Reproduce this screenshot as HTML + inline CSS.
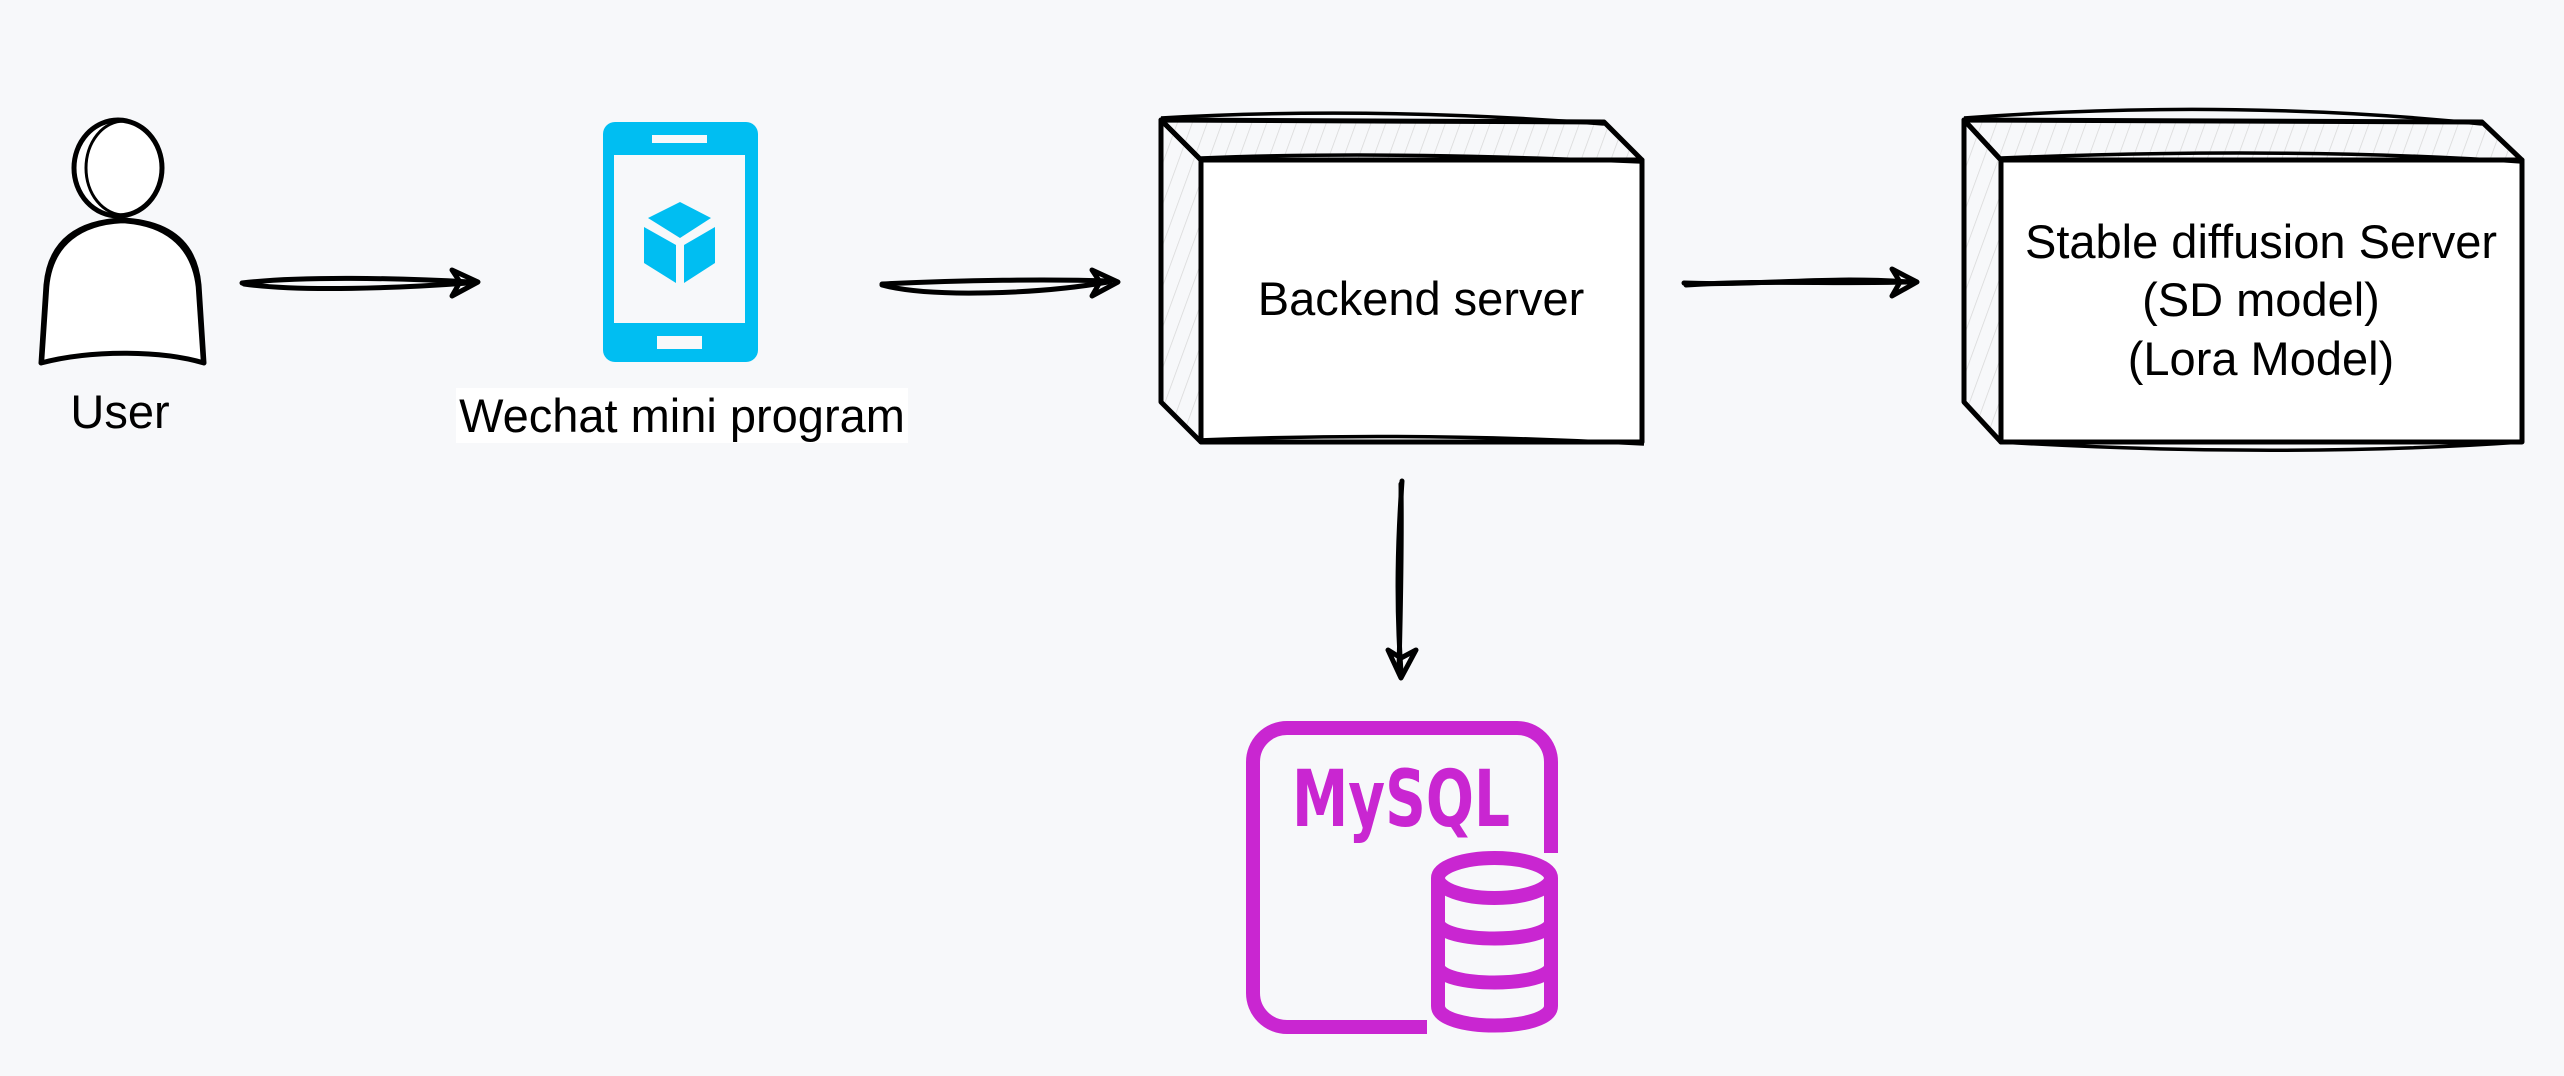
<!DOCTYPE html>
<html><head><meta charset="utf-8"><style>
html,body{margin:0;padding:0;background:#f7f8fa;}
svg{display:block;}
text{font-family:"Liberation Sans",Arial,sans-serif;}
</style></head><body>
<svg width="2564" height="1076" viewBox="0 0 2564 1076" xmlns="http://www.w3.org/2000/svg">
<defs>
<pattern id="h" width="14" height="14" patternUnits="userSpaceOnUse" patternTransform="rotate(20)">
<line x1="0" y1="0" x2="0" y2="14" stroke="#d8d8d8" stroke-width="1.5"/>
</pattern>
</defs>
<rect width="2564" height="1076" fill="#f7f8fa"/>

<!-- User -->
<g fill="#fff" stroke="#000" stroke-width="5" stroke-linejoin="round">
<path d="M41,363 L46,285 C50,240 80,222 122,220 C165,222 195,240 199,285 L204,363 C160,350 90,350 41,363 Z"/>
<path d="M43,361 L48,287 C52,243 82,224 122,222 C162,224 192,243 197,287 L202,361" fill="none" stroke-width="2.5"/>
<ellipse cx="118" cy="168" rx="44" ry="48"/>
<ellipse cx="124" cy="168" rx="38" ry="47" fill="none" stroke-width="3"/>
</g>
<text x="120" y="428" font-size="47" text-anchor="middle" fill="#000">User</text>

<!-- Arrow 1 -->
<g fill="none" stroke="#000" stroke-width="5" stroke-linecap="round" stroke-linejoin="round">
<path d="M242,283 C300,276 400,278 470,282"/>
<path d="M244,284 C300,292 400,288 468,283"/>
<path d="M452,270 L478,282 L452,296 L460,282 Z"/>
</g>

<!-- Phone -->
<rect x="603" y="122" width="155" height="240" rx="12" fill="#00bef2"/>
<rect x="614" y="155" width="131" height="168" fill="#f7f8fa"/>
<rect x="652" y="135" width="55" height="8" fill="#f7f8fa"/>
<rect x="657" y="336" width="45" height="13" fill="#f7f8fa"/>
<g fill="#00bef2">
<polygon points="680,202 711,218 680,238 648,218"/>
<polygon points="644,227 676,245 676,283 644,263"/>
<polygon points="715,227 684,245 684,283 715,263"/>
</g>
<rect x="456" y="388" width="452" height="55" fill="#fff"/>
<text x="682" y="432" font-size="47" text-anchor="middle" fill="#000">Wechat mini program</text>

<!-- Arrow 2 -->
<g fill="none" stroke="#000" stroke-width="5" stroke-linecap="round" stroke-linejoin="round">
<path d="M882,284 C960,280 1050,279 1110,281"/>
<path d="M882,285 C930,298 1040,294 1108,282"/>
<path d="M1092,270 L1118,282 L1092,296 L1100,282 Z"/>
</g>

<!-- Backend box -->
<g stroke="#000" stroke-width="5" stroke-linejoin="round">
<polygon points="1161,120 1604,122 1642,160 1201,160" fill="url(#h)"/>
<polygon points="1161,120 1201,160 1201,442 1161,402" fill="url(#h)"/>
<rect x="1201" y="160" width="441" height="282" fill="#fff"/>
<path d="M1161,118 C1300,110 1450,112 1604,124" fill="none" stroke-width="3.5"/>
<path d="M1201,158 C1350,152 1500,156 1642,162" fill="none" stroke-width="3.5"/>
<path d="M1199,440 C1350,434 1500,436 1644,444" fill="none" stroke-width="3.5"/>
</g>
<text x="1421" y="315" font-size="47" text-anchor="middle" fill="#000">Backend server</text>

<!-- Arrow 3 -->
<g fill="none" stroke="#000" stroke-width="5" stroke-linecap="round" stroke-linejoin="round">
<path d="M1684,283 C1760,286 1820,276 1910,282"/>
<path d="M1686,285 C1760,280 1830,284 1908,282"/>
<path d="M1892,269 L1917,282 L1892,296 L1900,282 Z"/>
</g>

<!-- SD box -->
<g stroke="#000" stroke-width="5" stroke-linejoin="round">
<polygon points="1964,120 2482,122 2522,160 2001,160" fill="url(#h)"/>
<polygon points="1964,120 2001,160 2001,442 1964,402" fill="url(#h)"/>
<rect x="2001" y="160" width="521" height="282" fill="#fff"/>
<path d="M1964,118 C2150,104 2330,108 2482,124" fill="none" stroke-width="3.5"/>
<path d="M2001,158 C2200,150 2380,152 2522,162" fill="none" stroke-width="3.5"/>
<path d="M2001,442 C2200,454 2380,452 2522,442" fill="none" stroke-width="3.5"/>
</g>
<g font-size="47" text-anchor="middle" fill="#000">
<text x="2261" y="258">Stable diffusion Server</text>
<text x="2261" y="316">(SD model)</text>
<text x="2261" y="375">(Lora Model)</text>
</g>

<!-- Arrow 4 down -->
<g fill="none" stroke="#000" stroke-width="5" stroke-linecap="round" stroke-linejoin="round">
<path d="M1402,481 C1398,540 1396,600 1401,672"/>
<path d="M1401,484 C1402,560 1400,620 1399,670"/>
<path d="M1388,650 L1401,678 L1416,650 L1401,658 Z"/>
</g>

<!-- MySQL icon -->
<g fill="none" stroke="#c926d1" stroke-width="14">
<path d="M1551,853 L1551,762 A34,34 0 0 0 1517,728 L1287,728 A34,34 0 0 0 1253,762 L1253,993 A34,34 0 0 0 1287,1027 L1427,1027"/>
<path d="M1438,878 L1438,1006 C1438,1032 1551,1032 1551,1006 L1551,878"/>
<ellipse cx="1494.5" cy="878" rx="56.5" ry="20"/>
<path d="M1438,922 C1438,944 1551,944 1551,922"/>
<path d="M1438,966 C1438,988 1551,988 1551,966"/>
</g>
<text x="1292" y="826" font-size="78" font-weight="bold" fill="#c926d1" textLength="218" lengthAdjust="spacingAndGlyphs" style='font-family:"DejaVu Sans",sans-serif'>MySQL</text>
</svg>
</body></html>
